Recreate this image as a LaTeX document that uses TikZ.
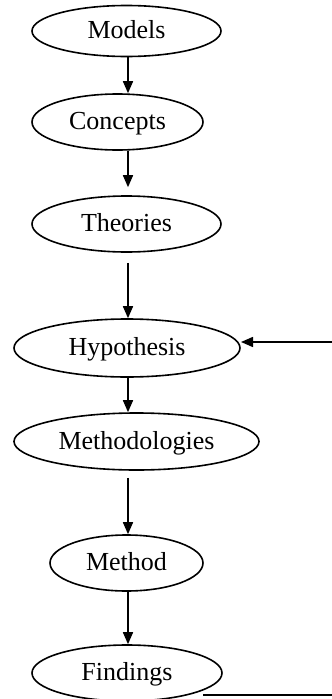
\documentclass[tikz,border=0pt]{standalone}
\usepackage{fontspec}
\setmainfont{Liberation Serif}
\usetikzlibrary{shapes.geometric,arrows.meta}
\begin{document}
\begin{tikzpicture}[x=1pt,y=-1pt,
  oval/.style={ellipse,draw,line width=1.6pt,inner sep=0pt,
    font=\fontsize{26}{30}\selectfont,text height=20pt,text depth=5pt},
  arr/.style={-{Triangle[length=12pt,width=10pt]},line width=1.5pt},
  fbline/.style={line width=1.5pt}]
\useasboundingbox (0,0) rectangle (332,699);
\node[oval,minimum width=189pt,minimum height=51pt] (models) at (126.5,31) {Models};
\node[oval,minimum width=171pt,minimum height=56pt] (concepts) at (117.5,122) {Concepts};
\node[oval,minimum width=189pt,minimum height=56pt] (theories) at (126.5,224) {Theories};
\node[oval,minimum width=226pt,minimum height=58pt] (hyp) at (127,348) {Hypothesis};
\node[oval,minimum width=245pt,minimum height=57pt] (meths) at (136.5,441.5) {Methodologies};
\node[oval,minimum width=153pt,minimum height=56pt] (method) at (126.5,563) {Method};
\node[oval,minimum width=190pt,minimum height=56pt] (findings) at (127,673) {Findings};
\coordinate (ax) at (128,0);
\coordinate (fstart) at (203,695);
\coordinate (fb1) at (334,695);
\coordinate (fb2) at (334,342);
\coordinate (hin) at (241,342);
\draw[arr] (ax |- models.south) -- (ax |- concepts.north);
\draw[arr,shorten >=8pt] (ax |- concepts.south) -- (ax |- theories.north);
\draw[arr,shorten <=10pt] (ax |- theories.south) -- (ax |- hyp.north);
\draw[arr] (ax |- hyp.south) -- (ax |- meths.north);
\draw[arr,shorten <=7pt] (ax |- meths.south) -- (ax |- method.north);
\draw[arr] (ax |- method.south) -- (ax |- findings.north);
\draw[fbline] (fstart) -- (fb1) -- (fb2);
\draw[arr] (fb2) -- (hin);
\end{tikzpicture}
\end{document}
